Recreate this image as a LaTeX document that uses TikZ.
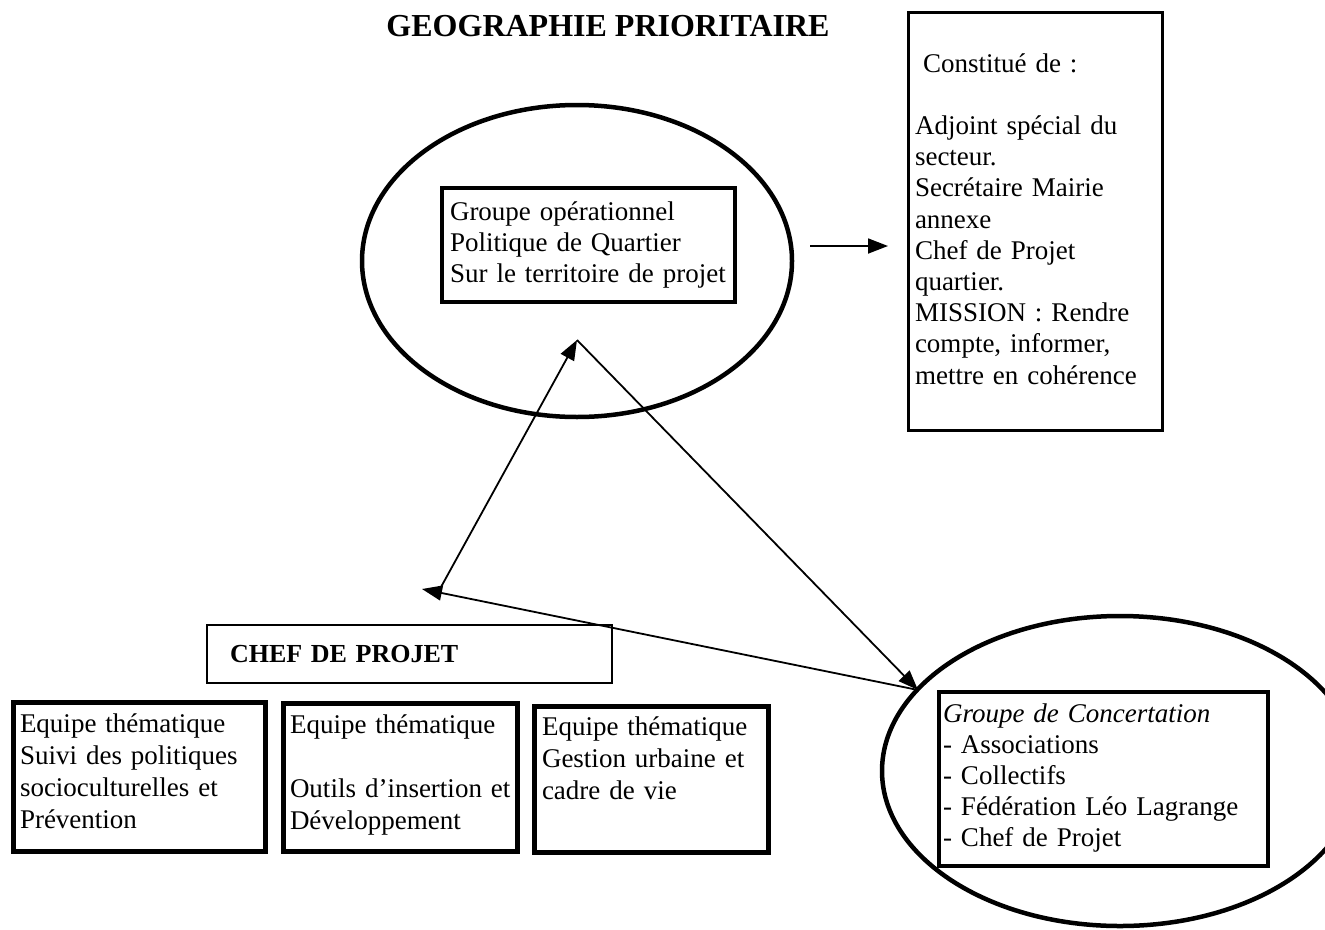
\documentclass[tikz,border=0pt]{standalone}
\usepackage{fontspec}
\setmainfont{Liberation Serif}
\usetikzlibrary{arrows.meta,shapes.geometric}
\begin{document}
\begin{tikzpicture}[x=1pt,y=-1pt,
  thinline/.style={line width=1.8pt},
  tipend/.style={-{Triangle[length=20pt,width=15pt]}},
  oval/.style={draw, ellipse, line width=4.5pt, inner sep=0pt, outer sep=0pt},
  frame/.style={draw, rectangle, inner sep=0pt, outer sep=0pt, anchor=north west},
  txt/.style={anchor=north west, inner sep=0pt, outer sep=0pt, text width=340pt, align=left, font=\fontsize{27}{31.2}\selectfont},
]
\useasboundingbox (0,0) rectangle (1325,929);
\clip (0,0) rectangle (1325,929);

% title
\node[anchor=base, inner sep=0pt, font=\fontsize{32}{38}\selectfont\bfseries] (title) at (608,36) {GEOGRAPHIE PRIORITAIRE};

% top ellipse with inner box
\node[oval, minimum width=430pt, minimum height=312pt] (e1) at (577,261) {};
\node[frame, line width=4pt, minimum width=293pt, minimum height=114pt] (b1) at (442,188) {};
\node[txt] (b1t) at (450,198.2) {\strut Groupe opérationnel\\Politique de Quartier\\Sur le territoire de projet};

% right box
\node[frame, line width=3pt, minimum width=254pt, minimum height=418pt] (r) at (908,12) {};
\node[txt] (rt) at (915,50.2) {\strut\hspace*{8pt}Constitué de :\\ \mbox{}\\Adjoint spécial du\\secteur.\\Secrétaire Mairie\\annexe\\Chef de Projet\\quartier.\\MISSION : Rendre\\compte, informer,\\mettre en cohérence};

% horizontal arrow
\coordinate (h1) at (810,246);
\coordinate (h2) at (888,246);
\draw[thinline, tipend] (h1) -- (h2);

% chef de projet box
\node[frame, line width=1.8pt, minimum width=405pt, minimum height=58pt] (c) at (207,625) {};
\node[txt, font=\fontsize{26}{31.2}\selectfont\bfseries] (ct) at (230,640.2) {\strut CHEF DE PROJET};

% bottom boxes
\node[frame, line width=5pt, minimum width=252pt, minimum height=149pt] (t1) at (13,702) {};
\node[txt, font=\fontsize{27}{32}\selectfont] (t1t) at (20,709.6) {\strut Equipe thématique\\Suivi des politiques\\socioculturelles et\\Prévention};
\node[frame, line width=5pt, minimum width=234pt, minimum height=148pt] (t2) at (283,703) {};
\node[txt, font=\fontsize{27}{32}\selectfont] (t2t) at (290,710.6) {\strut Equipe thématique\\ \mbox{}\\Outils d’insertion et\\Développement};
\node[frame, line width=5pt, minimum width=234pt, minimum height=146pt] (t3) at (534,706) {};
\node[txt, font=\fontsize{27}{32}\selectfont] (t3t) at (542,712.6) {\strut Equipe thématique\\Gestion urbaine et\\cadre de vie};

% right bottom ellipse
\node[oval, minimum width=476pt, minimum height=310pt] (e2) at (1120,771) {};
\node[frame, line width=4pt, minimum width=329pt, minimum height=174pt] (g) at (939,692) {};
\node[txt] (gt) at (943,700.2) {\strut\textit{Groupe de Concertation}\\- Associations\\- Collectifs\\- Fédération Léo Lagrange\\- Chef de Projet};

% triangle of arrows
\coordinate (apex) at (577,340);
\coordinate (cpl) at (441,587);
\coordinate (cptip) at (422,589);
\coordinate (gc) at (918,690);
\draw[thinline, tipend] (cpl) -- (apex);
\draw[thinline, tipend] (apex) -- (gc);
\draw[thinline, tipend] (gc) -- (cptip);
\end{tikzpicture}
\end{document}
